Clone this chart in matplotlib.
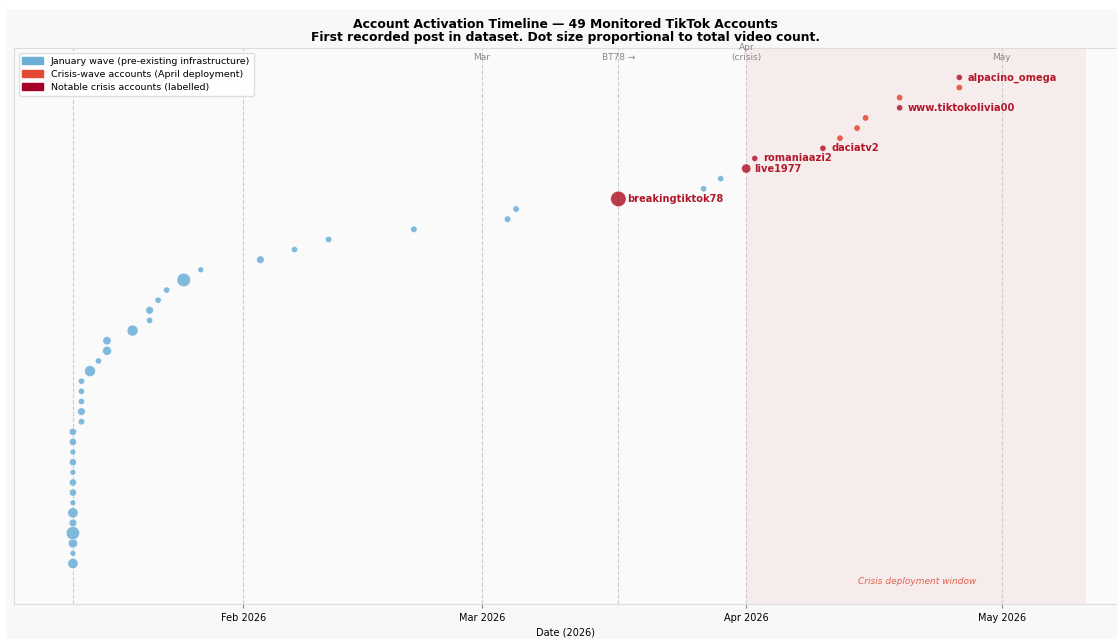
import matplotlib
matplotlib.use("Agg")
import matplotlib.pyplot as plt
import matplotlib.dates as mdates
from matplotlib.patches import Patch, Rectangle
import numpy as np
import pandas as pd

# first recorded post per account, sorted by date
first_post = [
    '2026-01-12', '2026-01-12', '2026-01-12', '2026-01-12', '2026-01-12',
    '2026-01-12', '2026-01-12', '2026-01-12', '2026-01-12', '2026-01-12',
    '2026-01-12', '2026-01-12', '2026-01-12', '2026-01-12',
    '2026-01-13', '2026-01-13', '2026-01-13', '2026-01-13', '2026-01-13',
    '2026-01-14', '2026-01-15', '2026-01-16', '2026-01-16', '2026-01-19',
    '2026-01-21', '2026-01-21', '2026-01-22', '2026-01-23', '2026-01-25',
    '2026-01-27', '2026-02-03', '2026-02-07', '2026-02-11', '2026-02-21',
    '2026-03-04', '2026-03-05', '2026-03-17', '2026-03-27', '2026-03-29',
    '2026-04-01', '2026-04-02', '2026-04-10', '2026-04-12', '2026-04-14',
    '2026-04-15', '2026-04-19', '2026-04-19', '2026-04-26', '2026-04-26',
]
video_counts = [
    400, 25, 300, 760, 155, 400, 25, 115, 115, 25,
    115, 25, 115, 115, 65, 155, 50, 50, 50, 475,
    50, 270, 210, 475, 50, 155, 50, 50, 800, 25,
    155, 50, 65, 65, 65, 65, 1090, 50, 50, 300,
    50, 50, 65, 65, 65, 50, 65, 65, 50,
]
# 'jan' = January wave, 'crisis' = April deployment, 'notable' = labelled
group = ['jan'] * 36 + ['notable', 'jan', 'jan', 'notable', 'notable', 'notable',
                        'crisis', 'crisis', 'crisis', 'notable', 'crisis', 'crisis', 'notable']
labels = {36: 'breakingtiktok78', 39: 'live1977', 40: 'romaniaazi2', 41: 'daciatv2',
          45: 'www.tiktokolivia00', 48: 'alpacino_omega'}

ref_lines = ['2026-01-12', '2026-02-01', '2026-03-01', '2026-03-17', '2026-04-01', '2026-05-01']
ref_text = {'2026-03-01': 'Mar', '2026-03-17': 'BT78 →', '2026-04-01': 'Apr\n(crisis)', '2026-05-01': 'May'}

colors = {'jan': '#6baed6', 'crisis': '#e34a33', 'notable': '#b2182b'}

dates = pd.to_datetime(first_post)
y = np.arange(len(dates))
sizes = 15 + np.array(video_counts) * 0.1

fig = plt.figure(figsize=(11.17, 6.39), dpi=100, facecolor='#f8f8f8')
# white screenshot border on top and left
fig.patches.append(Rectangle((0, 1 - 8 / 639), 1, 8 / 639, transform=fig.transFigure, color='white', zorder=-1))
fig.patches.append(Rectangle((0, 0), 5 / 1117, 1, transform=fig.transFigure, color='white', zorder=-1))

ax = fig.add_axes([0.0125, 0.0548, 0.9875, 0.870])
ax.set_facecolor('#fafafa')

ax.axvspan(pd.Timestamp('2026-04-01'), pd.Timestamp('2026-05-10 22:00'), color='#e8a0a0', alpha=0.15, lw=0, zorder=0)

for d in ref_lines:
    ax.axvline(pd.Timestamp(d), color='#cccccc', ls='--', lw=0.8, zorder=1)
    if d in ref_text:
        ax.text(pd.Timestamp(d), 0.975, ref_text[d], transform=ax.get_xaxis_transform(),
                ha='center', va='bottom', fontsize=6.5, color='#888888', linespacing=1.1)

for g in ['jan', 'crisis', 'notable']:
    m = np.array([k == g for k in group])
    ax.scatter(dates[m], y[m], s=sizes[m], color=colors[g], alpha=0.85,
               edgecolors='white', linewidths=0.4, zorder=3)

for i, name in labels.items():
    ax.annotate(name, (dates[i], y[i]), xytext=(6, 0), textcoords='offset points',
                va='center', ha='left', fontsize=7.1, fontweight='bold', color='#b2182b', zorder=4)

ax.text(pd.Timestamp('2026-04-21'), 0.04, 'Crisis deployment window', transform=ax.get_xaxis_transform(),
        ha='center', va='center', fontsize=6.5, style='italic', color='#e34a33', alpha=0.85)

ax.set_xlim(pd.Timestamp('2026-01-05 02:00'), pd.Timestamp('2026-05-14 12:00'))
ax.set_ylim(-4, 50.9)
ax.xaxis.set_major_locator(mdates.MonthLocator(bymonth=[2, 3, 4, 5]))
ax.xaxis.set_major_formatter(mdates.DateFormatter('%b %Y'))
ax.tick_params(axis='x', labelsize=7, length=3, color='#888888')
ax.set_yticks([])
ax.set_xlabel('Date (2026)', fontsize=7, labelpad=3)
for s in ax.spines.values():
    s.set_color('#dddddd')
    s.set_linewidth(0.8)

ax.set_title('Account Activation Timeline — 49 Monitored TikTok Accounts\n'
             'First recorded post in dataset. Dot size proportional to total video count.',
             fontsize=8.9, fontweight='bold', pad=5, linespacing=1.05)

handles = [Patch(color=colors['jan'], label='January wave (pre-existing infrastructure)'),
           Patch(color=colors['crisis'], label='Crisis-wave accounts (April deployment)'),
           Patch(color='#a50026', label='Notable crisis accounts (labelled)')]
ax.legend(handles=handles, loc='upper left', fontsize=6.8, framealpha=0.95, edgecolor='#dddddd',
          borderaxespad=0.5, handlelength=2.2, handletextpad=0.8, labelspacing=0.45)

fig.savefig('out.png', dpi=100, facecolor=fig.get_facecolor())
